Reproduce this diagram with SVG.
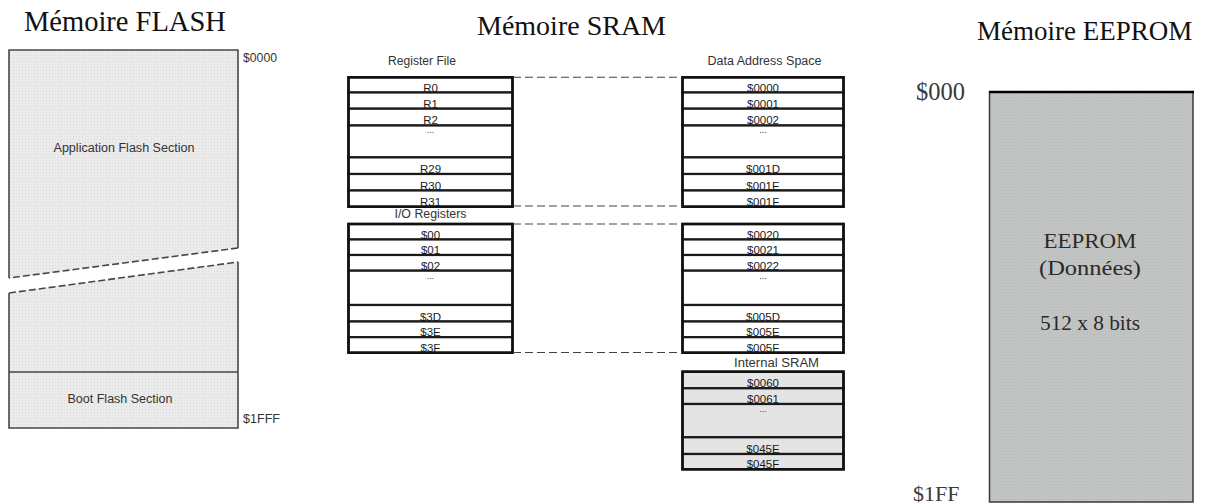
<svg xmlns="http://www.w3.org/2000/svg" width="1217" height="504" viewBox="0 0 1217 504">
  <style>
    .title { font-family: "Liberation Serif", "Times New Roman", serif; fill: #111; }
    .lbl { font-family: "Liberation Sans", Arial, sans-serif; font-size: 12px; fill: #333; }
    .cell { font-family: "Liberation Sans", Arial, sans-serif; font-size: 11.5px; fill: #1a1a1a; text-anchor: middle; }
    .dots { font-family: "Liberation Sans", Arial, sans-serif; font-size: 9px; fill: #333; text-anchor: middle; }
    .row { fill: #ffffff; stroke: #1a1a1a; stroke-width: 2.2; }
    .row-gray { fill: #e4e4e4; stroke: #1a1a1a; stroke-width: 2.2; }
    .frame { fill: none; stroke: #111; stroke-width: 2.6; }
    .flash-edge { fill: none; stroke: #474747; stroke-width: 1.6; }
    .flash-cut { fill: none; stroke: #474747; stroke-width: 1.6; stroke-dasharray: 7 3; }
    .link { fill: none; stroke: #444; stroke-width: 1.1; stroke-dasharray: 8 4; }
    .ee { font-family: "Liberation Serif", "Times New Roman", serif; fill: #2a2a2a; text-anchor: middle; }
    .addr { font-family: "Liberation Serif", "Times New Roman", serif; fill: #3a3a3a; }
  </style>
  <defs>
    <pattern id="grain" width="3" height="3" patternUnits="userSpaceOnUse">
      <rect width="3" height="3" fill="#ebebeb"/>
      <rect x="1" y="1" width="1" height="1" fill="#dadada"/>
    </pattern>
    <pattern id="grain-ee" width="3" height="3" patternUnits="userSpaceOnUse">
      <rect width="3" height="3" fill="#c2c4c4"/>
      <rect x="1" y="1" width="1" height="1" fill="#b8baba"/>
    </pattern>
  </defs>

  <rect width="1217" height="504" fill="#ffffff"/>

  <!-- Titles -->
  <text class="title" x="24" y="31" font-size="28.5">Mémoire FLASH</text>
  <text class="title" x="477" y="35" font-size="28">Mémoire SRAM</text>
  <text class="title" x="977" y="40" font-size="27">Mémoire EEPROM</text>

  <!-- FLASH memory: application section (upper, cut) -->
  <g id="flash-application">
    <path d="M9,50 H238 V248 L9,278 Z" fill="url(#grain)"/>
    <path class="flash-edge" d="M9,278 V50 H238 V248"/>
    <path class="flash-cut" d="M238,248 L9,278"/>
    <text class="lbl" x="124" y="152" text-anchor="middle" textLength="141" lengthAdjust="spacingAndGlyphs">Application Flash Section</text>
    <text class="lbl" x="243" y="61.5" textLength="34" lengthAdjust="spacingAndGlyphs">$0000</text>
  </g>

  <!-- FLASH memory: continuation and boot section -->
  <g id="flash-boot">
    <path d="M9,293 L238,262 V428 H9 Z" fill="url(#grain)"/>
    <path class="flash-edge" d="M238,262 V428 H9 V293"/>
    <path class="flash-cut" d="M9,293 L238,262"/>
    <line class="flash-edge" x1="9" y1="372" x2="238" y2="372"/>
    <text class="lbl" x="120" y="403" text-anchor="middle" textLength="105" lengthAdjust="spacingAndGlyphs">Boot Flash Section</text>
    <text class="lbl" x="243" y="422.5" textLength="37" lengthAdjust="spacingAndGlyphs">$1FFF</text>
  </g>

  <!-- SRAM: register file -->
  <g id="register-file">
    <text class="lbl" x="422" y="65" text-anchor="middle" textLength="68" lengthAdjust="spacingAndGlyphs">Register File</text>
    <rect class="row" x="348.5" y="77.3" width="164" height="15.2"/>
    <rect class="row" x="348.5" y="92.5" width="164" height="16.2"/>
    <rect class="row" x="348.5" y="108.7" width="164" height="16.8"/>
    <rect class="row" x="348.5" y="125.5" width="164" height="31.9"/>
    <rect class="row" x="348.5" y="157.4" width="164" height="16.6"/>
    <rect class="row" x="348.5" y="174" width="164" height="16.5"/>
    <rect class="row" x="348.5" y="190.5" width="164" height="16.2"/>
    <rect class="frame" x="348.5" y="77.3" width="164" height="129.4"/>
    <text class="cell" x="430.5" y="91.5">R0</text>
    <text class="cell" x="430.5" y="107.7">R1</text>
    <text class="cell" x="430.5" y="124">R2</text>
    <text class="dots" x="430.5" y="133">...</text>
    <text class="cell" x="430.5" y="173">R29</text>
    <text class="cell" x="430.5" y="189.5">R30</text>
    <text class="cell" x="430.5" y="205.5">R31</text>
  </g>

  <!-- SRAM: I/O registers -->
  <g id="io-registers">
    <text class="lbl" x="430.5" y="217.5" text-anchor="middle" textLength="72" lengthAdjust="spacingAndGlyphs">I/O Registers</text>
    <rect class="row" x="348.5" y="224" width="164" height="15.5"/>
    <rect class="row" x="348.5" y="239.5" width="164" height="15.5"/>
    <rect class="row" x="348.5" y="255" width="164" height="15.7"/>
    <rect class="row" x="348.5" y="270.7" width="164" height="34.3"/>
    <rect class="row" x="348.5" y="305" width="164" height="16.5"/>
    <rect class="row" x="348.5" y="321.5" width="164" height="15.7"/>
    <rect class="row" x="348.5" y="337.2" width="164" height="15.5"/>
    <rect class="frame" x="348.5" y="224" width="164" height="128.7"/>
    <text class="cell" x="430.5" y="238.5">$00</text>
    <text class="cell" x="430.5" y="254">$01</text>
    <text class="cell" x="430.5" y="269.7">$02</text>
    <text class="dots" x="430.5" y="279">...</text>
    <text class="cell" x="430.5" y="320.5">$3D</text>
    <text class="cell" x="430.5" y="336.2">$3E</text>
    <text class="cell" x="430.5" y="351.7">$3F</text>
  </g>

  <!-- SRAM: data address space, register part -->
  <g id="data-space-registers">
    <text class="lbl" x="764.5" y="65" text-anchor="middle" textLength="114" lengthAdjust="spacingAndGlyphs">Data Address Space</text>
    <rect class="row" x="682.5" y="77.3" width="161" height="15.2"/>
    <rect class="row" x="682.5" y="92.5" width="161" height="16.2"/>
    <rect class="row" x="682.5" y="108.7" width="161" height="16.8"/>
    <rect class="row" x="682.5" y="125.5" width="161" height="31.9"/>
    <rect class="row" x="682.5" y="157.4" width="161" height="16.6"/>
    <rect class="row" x="682.5" y="174" width="161" height="16.5"/>
    <rect class="row" x="682.5" y="190.5" width="161" height="16.2"/>
    <rect class="frame" x="682.5" y="77.3" width="161" height="129.4"/>
    <text class="cell" x="763" y="91.5">$0000</text>
    <text class="cell" x="763" y="107.7">$0001</text>
    <text class="cell" x="763" y="124">$0002</text>
    <text class="dots" x="763" y="133">...</text>
    <text class="cell" x="763" y="173">$001D</text>
    <text class="cell" x="763" y="189.5">$001E</text>
    <text class="cell" x="763" y="205.5">$001F</text>
  </g>

  <!-- SRAM: data address space, I/O part -->
  <g id="data-space-io">
    <rect class="row" x="682.5" y="224" width="161" height="15.5"/>
    <rect class="row" x="682.5" y="239.5" width="161" height="15.5"/>
    <rect class="row" x="682.5" y="255" width="161" height="15.7"/>
    <rect class="row" x="682.5" y="270.7" width="161" height="34.3"/>
    <rect class="row" x="682.5" y="305" width="161" height="16.5"/>
    <rect class="row" x="682.5" y="321.5" width="161" height="15.7"/>
    <rect class="row" x="682.5" y="337.2" width="161" height="15.5"/>
    <rect class="frame" x="682.5" y="224" width="161" height="128.7"/>
    <text class="cell" x="763" y="238.5">$0020</text>
    <text class="cell" x="763" y="254">$0021</text>
    <text class="cell" x="763" y="269.7">$0022</text>
    <text class="dots" x="763" y="279">...</text>
    <text class="cell" x="763" y="320.5">$005D</text>
    <text class="cell" x="763" y="336.2">$005E</text>
    <text class="cell" x="763" y="351.7">$005F</text>
  </g>

  <!-- SRAM: internal SRAM -->
  <g id="internal-sram">
    <text class="lbl" x="776.5" y="366.5" text-anchor="middle" textLength="85" lengthAdjust="spacingAndGlyphs">Internal SRAM</text>
    <rect class="row-gray" x="682.5" y="371.7" width="161" height="16.6"/>
    <rect class="row-gray" x="682.5" y="388.3" width="161" height="15.7"/>
    <rect class="row-gray" x="682.5" y="404" width="161" height="33.3"/>
    <rect class="row-gray" x="682.5" y="437.3" width="161" height="16.7"/>
    <rect class="row-gray" x="682.5" y="454" width="161" height="15.3"/>
    <rect class="frame" x="682.5" y="371.7" width="161" height="97.6"/>
    <text class="cell" x="763" y="387.3">$0060</text>
    <text class="cell" x="763" y="403">$0061</text>
    <text class="dots" x="763" y="412">...</text>
    <text class="cell" x="763" y="453">$045E</text>
    <text class="cell" x="763" y="468.3">$045F</text>
  </g>

  <!-- Dashed mapping lines between register blocks and data space -->
  <g id="connectors">
    <line class="link" x1="513" y1="77.3" x2="682" y2="77.3"/>
    <line class="link" x1="513" y1="206" x2="682" y2="206"/>
    <line class="link" x1="513" y1="224" x2="682" y2="224"/>
    <line class="link" x1="513" y1="352.5" x2="682" y2="352.5"/>
  </g>

  <!-- EEPROM memory -->
  <g id="eeprom">
    <rect x="989.5" y="92" width="203.5" height="410" fill="url(#grain-ee)" stroke="#3a3a3a" stroke-width="1.5"/>
    <line x1="989" y1="92" x2="1194" y2="92" stroke="#000" stroke-width="2.6"/>
    <text class="ee" x="1090" y="247.7" font-size="20" textLength="93" lengthAdjust="spacingAndGlyphs">EEPROM</text>
    <text class="ee" x="1090" y="275" font-size="20.5" textLength="102" lengthAdjust="spacingAndGlyphs">(Données)</text>
    <text class="ee" x="1090" y="330" font-size="20.5" textLength="100" lengthAdjust="spacingAndGlyphs">512 x 8 bits</text>
    <text class="addr" x="916" y="100" font-size="24.5">$000</text>
    <text class="addr" x="913" y="501" font-size="22">$1FF</text>
  </g>
</svg>
